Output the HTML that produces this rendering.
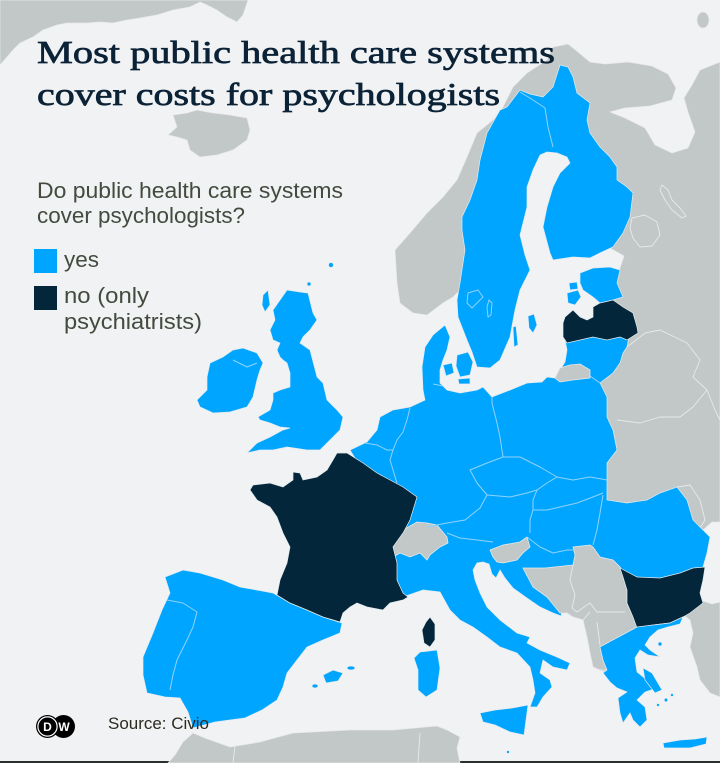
<!DOCTYPE html>
<html><head><meta charset="utf-8"><style>
html,body{margin:0;padding:0;background:#f1f2f3;}
svg{display:block;}
</style></head><body>
<svg width="720" height="763" viewBox="0 0 720 763" xmlns="http://www.w3.org/2000/svg">
<rect width="720" height="763" fill="#f1f2f3"/>
<rect x="0" y="761" width="720" height="2" fill="#2a2f30"/>
<g fill="#c2c7c7" stroke="#e6e9ea" stroke-width="0.7">
<path d="M0,0 L248,0 L243,15 L237,22 L227,17 L217,10 L207,5 L200,2 L190,7 L173,10 L157,15 L140,18 L127,20 L113,23 L100,22 L87,23 L67,23 L57,25 L43,30 L33,37 L20,43 L13,50 L0,65 Z"/>
<path d="M168,135 L177,127 L173,115 L187,113 L197,110 L213,113 L230,115 L247,118 L250,130 L247,140 L233,150 L217,155 L200,157 L190,150 L187,140 L177,137 Z"/>
<ellipse cx="703" cy="20" rx="6" ry="8"/>
<path d="M413,313 L400,303 L397,283 L395,250 L410,233 L427,213 L443,197 L457,180 L467,157 L477,133 L493,120 L503,107 L513,87 L527,73 L547,60 L553,47 L568,44 L578,52 L590,62 L605,64 L628,62 L652,66 L668,74 L676,88 L672,100 L650,106 L625,108 L610,112 L625,118 L645,128 L655,145 L672,153 L688,148 L695,132 L688,112 L684,98 L692,85 L700,70 L720,62 L720,522 L712,522 L703,530 L700,600 L712,604 L720,602 L720,697 L710,693 L700,680 L697,667 L690,647 L693,633 L690,620 L682,614 L660,612 L640,625 L605,672 L595,668 L593,660 L590,650 L587,637 L583,620 L575,615 L567,610 L560,610 L547,597 L533,587 L523,568 L555,555 L580,545 L598,540 L598,500 L592,470 L595,420 L600,390 L590,360 L590,330 L610,290 L620,268 L624,256 L610,248 L600,160 L575,100 L530,97 L495,130 L478,200 L467,260 L460,290 L453,297 L443,303 L427,315 Z"/>
<path d="M168,763 L175,755 L183,742 L193,733 L205,738 L230,747 L260,742 L293,733 L350,730 L393,730 L437,726 L447,730 L460,737 L457,748 L460,763 Z"/>
</g>
<g fill="none" stroke="#e8eaea" stroke-width="0.9" stroke-linejoin="round">
<path d="M662,185 L668,190 L672,200 L680,208 L686,216 L682,218 L672,210 L665,200 L660,190 Z"/>
<path d="M632,218 L645,215 L657,222 L660,235 L652,246 L640,247 L633,238 L630,228 Z"/>
<path d="M627,347 L645,333 L660,330 L687,343 L700,360 L693,377 L707,390 L693,407 L680,417 L660,417 L640,423 L617,420"/>
<path d="M707,390 L715,410 L720,420"/>
<path d="M677,487 L690,485 L700,500 L705,520 L700,528"/>
<path d="M235,746 L233,763 M420,733 L418,763"/>
</g>
<g fill="#00a5ff" stroke="#e2ebf0" stroke-width="0.7">
<path d="M560,65 L568,67 L573,77 L577,93 L590,103 L587,120 L590,133 L600,147 L610,157 L617,167 L617,180 L627,187 L633,193 L630,217 L623,233 L613,247 L600,253 L590,258 L573,257 L553,260 L550,253 L543,227 L547,207 L553,187 L560,173 L570,163 L567,157 L557,153 L547,152 L540,155 L533,170 L527,187 L527,207 L520,235 L525,255 L530,270 L520,290 L515,310 L510,337 L500,360 L490,368 L477,367 L472,352 L467,340 L458,317 L457,300 L460,283 L465,250 L462,230 L462,217 L470,200 L477,180 L480,160 L487,133 L500,110 L507,107 L520,90 L530,94 L543,97 L553,87 Z"/>
<path d="M350,450 L367,442 L377,430 L380,417 L393,410 L410,407 L425,400 L423,390 L422,367 L425,347 L433,335 L445,325 L450,337 L447,350 L443,360 L440,370 L440,383 L447,390 L460,393 L477,390 L483,387 L492,397 L510,390 L527,383 L542,382 L547,377 L555,378 L565,362 L567,350 L565,340 L575,325 L630,332 L627,347 L623,353 L620,363 L613,373 L600,383 L607,397 L607,417 L613,430 L617,450 L607,463 L607,483 L607,500 L627,503 L647,500 L660,493 L677,487 L687,500 L693,520 L703,530 L710,537 L707,553 L703,567 L670,585 L625,575 L600,560 L565,600 L561,616 L553,613 L540,607 L527,598 L513,588 L505,578 L500,570 L496,578 L492,574 L489,564 L483,562 L477,563 L473,570 L475,580 L480,593 L487,607 L500,620 L517,633 L530,637 L527,643 L540,650 L557,657 L570,663 L567,670 L553,667 L543,660 L540,673 L550,680 L552,687 L543,697 L537,707 L530,707 L535,693 L533,680 L530,667 L517,653 L500,647 L487,637 L473,627 L460,620 L450,610 L440,592 L423,590 L403,597 L390,560 L380,500 L355,458 Z"/>
<path d="M165,577 L183,570 L200,573 L223,580 L240,587 L257,590 L273,593 L290,603 L307,610 L323,617 L342,623 L340,633 L323,640 L307,647 L297,660 L287,673 L283,687 L277,700 L262,710 L245,718 L215,722 L193,728 L188,712 L180,698 L165,697 L147,693 L143,675 L143,657 L153,633 L162,610 L170,593 Z"/>
<path d="M287,290 L300,292 L308,293 L313,313 L317,320 L310,330 L303,337 L300,343 L310,350 L317,377 L323,383 L327,400 L337,410 L343,417 L340,430 L333,437 L327,443 L320,450 L307,450 L287,447 L273,450 L260,450 L247,453 L257,443 L270,437 L283,430 L290,428 L280,427 L270,423 L260,420 L258,417 L270,410 L273,400 L273,393 L280,390 L290,387 L290,373 L287,363 L283,360 L280,357 L277,350 L280,343 L273,340 L270,330 L275,320 L273,310 L280,300 Z"/>
<path d="M233,350 L243,348 L257,353 L263,363 L260,370 L257,380 L253,397 L247,407 L230,412 L213,413 L200,407 L197,400 L207,390 L207,377 L210,363 L223,357 Z"/>
<path d="M580,273 L593,268 L610,267 L620,270 L617,283 L623,297 L613,300 L600,303 L593,297 L583,290 L580,283 Z"/>
<path d="M567,293 L578,290 L581,297 L575,305 L568,303 Z"/>
<path d="M569,283 L577,282 L578,289 L570,290 Z"/>
<path d="M528,316 L534,314 L537,325 L533,333 L529,328 Z"/>
<path d="M513,327 L516,326 L518,345 L514,347 Z"/>
<path d="M457,355 L468,352 L473,362 L470,375 L460,377 L456,366 Z"/>
<path d="M443,365 L452,363 L454,373 L446,376 Z"/>
<path d="M458,379 L470,378 L470,384 L459,384 Z"/>
<path d="M263,295 L268,290 L270,305 L265,312 L262,305 Z"/>
<circle cx="331" cy="265" r="2.5"/>
<circle cx="309" cy="284" r="2"/>
<path d="M420,652 L437,650 L440,668 L437,690 L426,697 L418,690 L418,670 L414,658 Z"/>
<path d="M480,713 L495,710 L512,708 L528,705 L526,720 L524,735 L510,732 L495,725 L483,722 Z"/>
<path d="M323,675 L333,670 L343,673 L338,681 L326,683 Z"/>
<ellipse cx="351" cy="668" rx="4" ry="2"/>
<ellipse cx="315" cy="686" rx="3" ry="2"/>
<circle cx="508" cy="752" r="1.5"/>
</g>
<g fill="#c2c7c7" stroke="#e6e9ea" stroke-width="0.8">
<path d="M523,568 L545,568 L573,565 L575,555 L573,547 L590,545 L593,547 L600,557 L613,560 L620,567 L623,573 L623,577 L627,590 L627,603 L633,617 L637,627 L613,640 L600,647 L603,660 L607,670 L600,670 L593,667 L590,653 L587,637 L583,620 L573,617 L567,613 L560,613 L547,597 L533,587 Z"/>
<path d="M390,547 L393,540 L403,530 L417,522 L427,523 L437,525 L447,537 L448,543 L440,547 L430,555 L427,560 L420,553 L410,557 L400,553 L393,557 Z"/>
<path d="M490,550 L503,545 L520,542 L527,537 L530,547 L523,553 L517,560 L503,563 L497,562 L493,557 Z"/>
<path d="M555,378 L560,368 L570,365 L580,364 L590,370 L590,378 L573,380 L560,382 Z"/>
</g>
<g fill="none" stroke="#e8eaea" stroke-width="0.9">
<path d="M573,565 L570,580 L575,595 L572,608 L577,612"/>
<path d="M577,612 L590,603 L597,612 L610,612 L625,612"/>
<path d="M597,622 L600,645"/>
<path d="M583,620 L590,612"/>
</g>
<g fill="#03263a" stroke="#e2ebf0" stroke-width="0.7">
<path d="M337,453 L347,453 L363,463 L377,473 L390,480 L403,487 L417,497 L410,520 L403,533 L393,547 L397,563 L397,580 L403,593 L408,597 L403,600 L390,603 L383,610 L367,607 L357,603 L350,607 L343,613 L340,622 L323,617 L307,610 L290,603 L277,595 L280,580 L287,563 L290,547 L283,533 L277,517 L270,507 L257,500 L250,490 L253,485 L270,483 L283,487 L293,480 L293,472 L300,473 L303,480 L317,477 L327,470 L333,460 Z"/>
<path d="M565,317 L573,310 L580,317 L587,320 L593,317 L593,307 L600,303 L613,300 L623,307 L633,313 L637,327 L638,333 L627,340 L620,337 L607,340 L593,337 L580,340 L567,343 L563,337 L563,323 Z"/>
<path d="M620,568 L637,577 L660,578 L680,573 L693,568 L705,567 L703,580 L700,593 L703,603 L690,613 L683,617 L670,623 L653,625 L637,628 L633,617 L627,603 L627,590 L623,577 Z"/>
<path d="M430,617 L435,624 L435,640 L430,647 L424,643 L422,630 L426,622 Z"/>
</g>
<g fill="#00a5ff" stroke="#e2ebf0" stroke-width="0.7">
<path d="M607,670 L603,660 L600,647 L613,640 L637,627 L653,625 L670,623 L683,617 L680,624 L668,627 L658,630 L650,637 L645,645 L650,650 L660,657 L648,655 L640,650 L635,658 L637,672 L647,680 L657,688 L645,692 L637,700 L645,707 L647,720 L640,727 L633,720 L630,713 L623,723 L620,713 L618,698 L627,692 L617,688 L610,682 L603,673 Z"/>
<path d="M643,668 L652,673 L662,690 L655,693 L645,680 Z"/>
<path d="M663,743 L680,740 L695,739 L707,737 L706,744 L690,748 L673,748 L664,748 Z"/>
<circle cx="660" cy="644" r="2"/>
<circle cx="666" cy="700" r="1.8"/>
<circle cx="672" cy="695" r="1.5"/>
<circle cx="658" cy="705" r="1.5"/>
</g>
<g fill="none" stroke="#8fd4fd" stroke-width="1" stroke-linejoin="round">
<path d="M520,92 L533,100 L545,108 L548,127 L553,147"/>
<path d="M167,600 L183,603 L197,612 L193,627 L187,640 L177,660 L173,675 L170,690"/>
<path d="M410,408 L407,420 L403,432 L397,440 L393,450 L390,460 L393,470 L397,483"/>
<path d="M365,443 L377,445 L387,450 L393,450"/>
<path d="M433,384 L443,386"/>
<path d="M492,397 L492,403 L497,423 L500,437 L503,457"/>
<path d="M503,457 L487,463 L470,470 L477,483 L487,495"/>
<path d="M487,495 L480,508 L465,520 L447,523 L427,527"/>
<path d="M487,495 L510,497 L527,493 L537,490 L547,483 L557,477"/>
<path d="M503,457 L520,457 L540,467 L557,477 L573,480 L590,477 L607,480"/>
<path d="M447,533 L460,538 L477,540 L493,542"/>
<path d="M537,490 L533,500 L533,510 L530,520 L530,533"/>
<path d="M533,510 L547,510 L560,507 L577,503 L593,497 L603,493"/>
<path d="M603,495 L600,513 L597,530 L593,545"/>
<path d="M527,537 L540,547 L553,553 L567,550 L573,550"/>
<path d="M590,376 L600,383"/>
<path d="M233,360 L247,367 L257,363"/>
<path d="M468,293 L478,290 L483,297 L477,303 L472,308 L467,303 Z"/>
<path d="M489,300 L492,303 L491,315 L488,317 L487,307 Z"/>
</g>
<g font-family="'Liberation Serif', serif" fill="#0b2237" stroke="#0b2237" stroke-width="0.7">
<text x="37" y="63" font-size="32" textLength="518" lengthAdjust="spacingAndGlyphs">Most public health care systems</text>
<text x="37" y="105" font-size="32" textLength="463" lengthAdjust="spacingAndGlyphs">cover costs for psychologists</text>
</g>
<g font-family="'Liberation Sans', sans-serif" fill="#434a3e">
<text x="37" y="198" font-size="22" textLength="306" lengthAdjust="spacingAndGlyphs">Do public health care systems</text>
<text x="37" y="223" font-size="22" textLength="208" lengthAdjust="spacingAndGlyphs">cover psychologists?</text>
<text x="64" y="267" font-size="22" textLength="35" lengthAdjust="spacingAndGlyphs">yes</text>
<text x="64" y="303" font-size="22" textLength="85" lengthAdjust="spacingAndGlyphs">no (only</text>
<text x="64" y="329" font-size="22" textLength="138" lengthAdjust="spacingAndGlyphs">psychiatrists)</text>
</g>
<rect x="34" y="249" width="23" height="24" fill="#00a5ff"/>
<rect x="34" y="286" width="23" height="24" fill="#03263a"/>
<circle cx="63.5" cy="726.5" r="11.5" fill="#000"/>
<circle cx="47.5" cy="726.5" r="11.5" fill="#000"/>
<circle cx="47.5" cy="726.5" r="9.6" fill="none" stroke="#fff" stroke-width="1.2"/>
<text x="47.5" y="731" font-family="'Liberation Sans', sans-serif" font-weight="bold" font-size="12" fill="#fff" text-anchor="middle">D</text>
<text x="64" y="731" font-family="'Liberation Sans', sans-serif" font-weight="bold" font-size="12" fill="#fff" text-anchor="middle">W</text>
<text x="108" y="729" font-family="'Liberation Sans', sans-serif" font-size="17" fill="#2b2b22" textLength="101" lengthAdjust="spacingAndGlyphs">Source: Civio</text>
</svg>
</body></html>
